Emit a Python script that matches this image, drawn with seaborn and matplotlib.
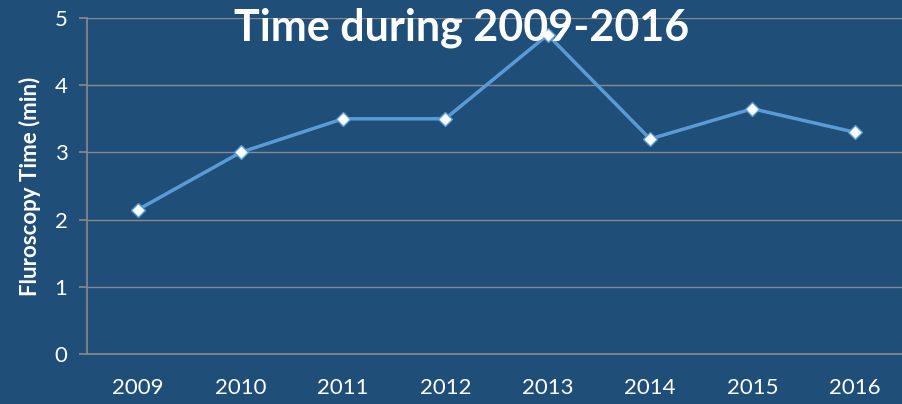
import matplotlib
matplotlib.use("Agg")
import matplotlib.pyplot as plt
import seaborn as sns
import pandas as pd
import numpy as np
from matplotlib.ticker import FixedLocator

years = ["2009", "2010", "2011", "2012", "2013", "2014", "2015", "2016"]
fluoro_time = [2.15, 3.0, 3.5, 3.5, 4.75, 3.2, 3.65, 3.3]
title = "Time during 2009-2016"
ylabel = "Fluroscopy Time (min)"

bg = "#1F4E79"
line_c = "#5B9BD5"
grid_c = "#8A8A8A"

sns.set_theme(style="white")
plt.rcParams['font.family'] = ['Lato', 'DejaVu Sans']

fig = plt.figure(figsize=(9.02, 4.04), dpi=100)
fig.patch.set_facecolor(bg)
ax = fig.add_axes([87/902, (404-354)/404, (906-87)/902, (354-18)/404])
ax.set_facecolor(bg)

df = pd.DataFrame({"year": years, "val": fluoro_time})
x = np.arange(len(years))
sns.lineplot(x=x, y=df["val"], ax=ax, color=line_c, linewidth=2.5,
             marker="D", markersize=7, markerfacecolor="white",
             markeredgecolor=line_c, markeredgewidth=1.0)

ax.set_xlim(-0.5, len(years) - 0.5)
ax.set_ylim(0, 5)
ax.set_xticks(x)
ax.set_xticklabels(years)
ax.xaxis.set_minor_locator(FixedLocator(np.arange(-0.5, len(years), 1.0)))
ax.set_yticks(range(0, 6))
for s in ["top", "right"]:
    ax.spines[s].set_visible(False)
for s in ["left", "bottom"]:
    ax.spines[s].set_color(grid_c)
    ax.spines[s].set_linewidth(1.2)
ax.yaxis.grid(True, color=grid_c, linewidth=1.0)
ax.set_axisbelow(True)
ax.tick_params(axis="x", which="major", length=0, pad=17, labelsize=16, labelcolor="white")
ax.tick_params(axis="x", which="minor", length=6, color=grid_c, width=1.2, direction="out")
ax.tick_params(axis="y", which="major", length=6, color=grid_c, width=1.2, labelsize=16,
               labelcolor="white", pad=8, left=True)
ax.set_xlabel("")
ax.set_ylabel(ylabel, color="white", fontsize=16, fontweight="bold", labelpad=10)

fig.text(462/902, 1 - 28/404, title, color="white", fontsize=31, fontweight="bold",
         ha="center", va="center")

fig.savefig("out.png", dpi=100, facecolor=bg)
